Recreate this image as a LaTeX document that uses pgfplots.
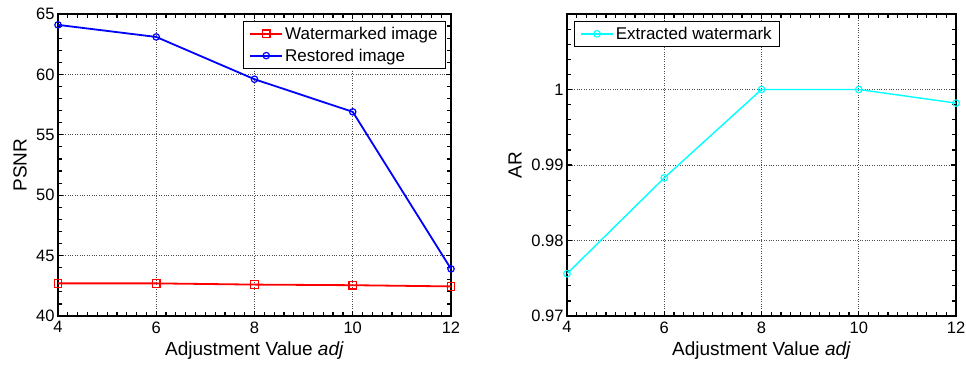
\documentclass[border=0pt]{standalone}
\usepackage{pgfplots}
\pgfplotsset{compat=1.18}
\usepackage{fontspec}
\setmainfont{Liberation Sans}
\definecolor{mcyan}{RGB}{0,255,255}
\definecolor{mred}{RGB}{255,0,0}
\definecolor{mblue}{RGB}{0,0,255}
\begin{document}
\begin{tikzpicture}
\pgfplotsset{
  mystyle/.style={
    scale only axis,
    anchor=south west,
    axis line style={line width=1.4pt},
    tick style={black, line width=1.2pt},
    major tick length=5pt,
    minor tick length=4pt,
    tick align=inside,
    xtick pos=both, ytick pos=both,
    grid=major,
    major grid style={dotted, black!70, line width=0.7pt},
    minor grid style={draw=none},
    tick label style={font=\fontsize{16.5}{18}\selectfont},
    label style={font=\fontsize{19}{21}\selectfont},
    legend style={font=\fontsize{17}{19}\selectfont, draw=black, line width=0.8pt, inner xsep=6pt, inner ysep=3.5pt, row sep=4pt},
    legend cell align=left,
    legend image code/.code={\draw[mark repeat=2, mark phase=2, #1] plot coordinates {(0pt,0pt)(16pt,0pt)(32pt,0pt)};},
    xmin=4, xmax=12,
    xtick={4,6,8,10,12},
    xticklabels={4,6,8,10,12},
    minor x tick num=9,
    xticklabel style={yshift=-2pt},
    xlabel={Adjustment Value \textit{adj}},
    xlabel style={at={(axis description cs:0.5,0)}, anchor=center, yshift=-35pt},
  }
}
\begin{axis}[mystyle,
  at={(58pt,49pt)}, width=393pt, height=302pt,
  ymin=40, ymax=65,
  ytick={40,45,50,55,60,65},
  yticklabels={40,45,50,55,60,65},
  minor y tick num=4,
  ylabel={PSNR},
  ylabel style={at={(axis description cs:-0.0967,0.5)}, anchor=center},
  legend style={at={(1,1)}, anchor=north east, xshift=-5pt, yshift=-7pt},
]
\addplot[mred, line width=1.8pt, mark=square, mark size=3.8pt, mark options={line width=1.2pt, solid}]
  coordinates {(4,42.7) (6,42.7) (8,42.6) (10,42.55) (12,42.45)};
\addlegendentry{Watermarked image}
\addplot[mblue, line width=1.8pt, mark=o, mark size=3.2pt, mark options={line width=1.2pt, solid}]
  coordinates {(4,64.1) (6,63.1) (8,59.6) (10,56.9) (12,43.9)};
\addlegendentry{Restored image}
\end{axis}
\begin{axis}[mystyle,
  at={(567pt,49pt)}, width=389pt, height=302pt,
  ymin=0.97, ymax=1.01,
  ytick={0.97,0.98,0.99,1},
  yticklabels={0.97,0.98,0.99,1},
  minor ytick={0.972,0.974,0.976,0.978,0.982,0.984,0.986,0.988,0.992,0.994,0.996,0.998,1.002,1.004,1.006,1.008},
  ylabel={AR},
  ylabel style={at={(axis description cs:-0.1337,0.5)}, anchor=center},
  legend style={at={(0,1)}, anchor=north west, xshift=7pt, yshift=-7pt},
]
\addplot[mcyan, line width=1.4pt, mark=o, mark size=3.3pt, mark options={line width=1.1pt, solid}]
  coordinates {(4,0.9756) (6,0.9883) (8,1.0) (10,1.0) (12,0.9982)};
\addlegendentry{Extracted watermark}
\end{axis}
\pgfresetboundingbox
\path (0,0) rectangle (966pt,365pt);
\end{tikzpicture}
\end{document}
